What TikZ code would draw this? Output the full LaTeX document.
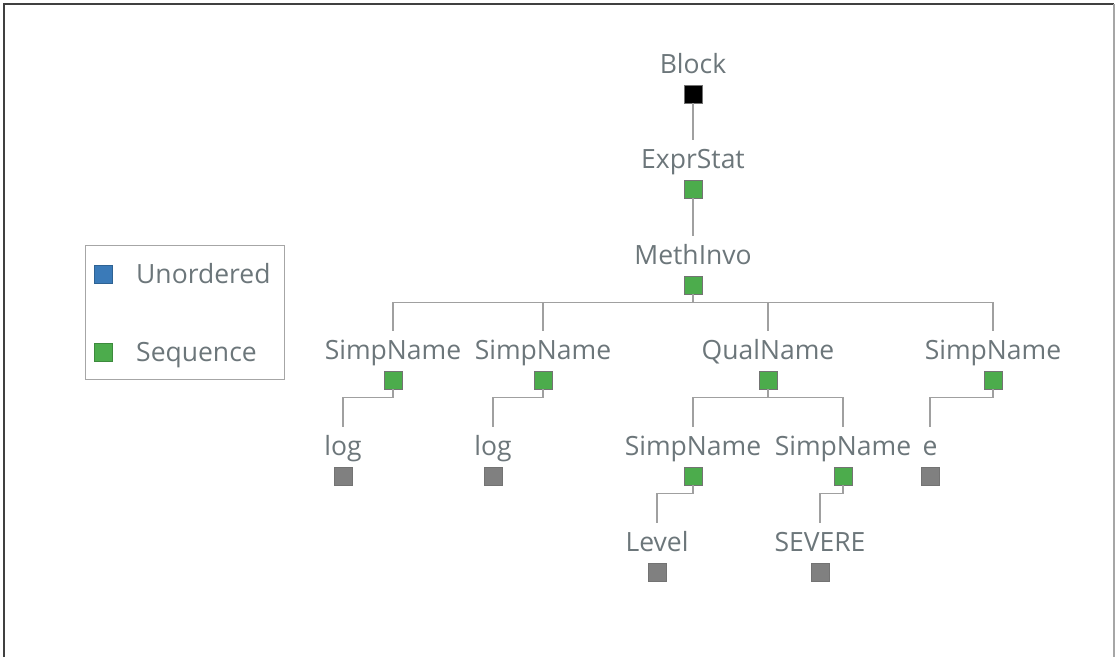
\documentclass[tikz,border=0pt]{standalone}
\usepackage{fontspec}
\setmainfont{Open Sans}
\definecolor{txtgray}{RGB}{108,118,122}
\definecolor{seqgreen}{RGB}{76,172,76}
\definecolor{unblue}{RGB}{58,122,184}
\definecolor{leafgray}{RGB}{128,128,128}
\definecolor{linegray}{RGB}{160,160,160}
\begin{document}
\begin{tikzpicture}[x = 1pt, y = -1pt,
	lab/.style = {text = txtgray, font = \fontsize{26.5}{30}\selectfont, inner xsep = 0, inner ysep = 10pt, text height = 18pt, text depth = 6pt},
	sq/.style = {draw = black!55, line width = 0.8pt, minimum size = 18pt, inner sep = 0, shape = rectangle},
	edge/.style = {draw = linegray, line width = 1.4pt}]
	\useasboundingbox (0, 0) rectangle (1115, 657);
	\draw[black!75, line width = 1.5pt] (4, 657) -- (4, 4) -- (1114, 4);
	\draw[black!35, line width = 1.5pt] (1114, 4) -- (1114, 657);
	% legend
	\node[draw = black!35, line width = 1pt, minimum width = 199pt, minimum height = 134pt, inner sep = 0] (legend) at (184.5, 312) {};
	\node[sq, draw = unblue!80!black, fill = unblue] (kun) at (103, 274) {};
	\node[sq, draw = seqgreen!80!black, fill = seqgreen] (kseq) at (103, 352) {};
	\node[lab, anchor = west] (tun) at (136, 277) {Unordered};
	\node[lab, anchor = west] (tseq) at (136, 355) {Sequence};
	% tree
	\foreach \n/\x/\y/\t/\c in {blk/693/94/Block/black, exs/693/189/ExprStat/seqgreen, mi/693/285/MethInvo/seqgreen,
		sa/393/380/SimpName/seqgreen, sb/543/380/SimpName/seqgreen, qn/768/380/QualName/seqgreen, sc/993/380/SimpName/seqgreen,
		la/343/476/log/leafgray, lb/493/476/log/leafgray, qa/693/476/SimpName/seqgreen, qb/843/476/SimpName/seqgreen, le/930/476/e/leafgray,
		lv/657/572/Level/leafgray, sv/820/572/SEVERE/leafgray}{
		\node[lab] (l\n) at (\x, \y - 27) {\t};
		\node[sq, fill = \c] (s\n) at (\x, \y) {};}
	\foreach \p/\c in {blk/exs, exs/mi, mi/sa, mi/sb, mi/qn, mi/sc, sa/la, sb/lb, qn/qa, qn/qb, sc/le, qa/lv, qb/sv}{
		\draw[edge] (s\p.south) -- ++(0, 8) -| (l\c.north);}
\end{tikzpicture}
\end{document}
